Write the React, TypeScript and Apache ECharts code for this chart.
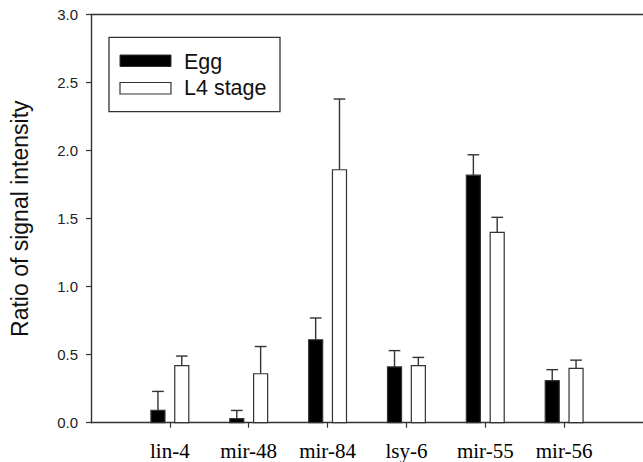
import React, { useEffect, useRef } from "react";
import * as echarts from "echarts";

const categories = ["lin-4", "mir-48", "mir-84", "lsy-6", "mir-55", "mir-56"];
const seriesNames = ["Egg", "L4 stage"];
const eggValues = [0.09, 0.03, 0.61, 0.41, 1.82, 0.31];
const eggErrors = [0.14, 0.06, 0.16, 0.12, 0.15, 0.08];
const l4Values = [0.42, 0.36, 1.86, 0.42, 1.4, 0.4];
const l4Errors = [0.07, 0.2, 0.52, 0.06, 0.11, 0.06];
const yTicks = [0, 0.5, 1, 1.5, 2, 2.5, 3];

const positions = categories.map((_, i) => i + 1);

const SANS = "'Liberation Sans', Arial, sans-serif";
const SERIF = "'Liberation Serif', 'Times New Roman', serif";
const LINE = "#333";

function makeSeries(name: string, values: number[], errors: number[], offset: number, fill: string) {
  const data = values.map((v, i) => [positions[i], v, errors[i]]);
  return {
    type: "custom",
    name,
    data,
    clip: false,
    renderItem: (params: any, api: any) => {
      const x = api.value(0) + offset;
      const v = api.value(1);
      const e = api.value(2);
      const base = api.coord([x, 0]);
      const top = api.coord([x, v]);
      const errTop = api.coord([x, v + e]);
      const w = api.size([0.178, 0])[0];
      const cap = api.size([0.148, 0])[0];
      const cx = base[0];
      return {
        type: "group",
        children: [
          {
            type: "line",
            shape: { x1: cx, y1: top[1], x2: cx, y2: errTop[1] },
            style: { stroke: LINE, lineWidth: 1.4 },
          },
          {
            type: "line",
            shape: { x1: cx - cap / 2, y1: errTop[1], x2: cx + cap / 2, y2: errTop[1] },
            style: { stroke: LINE, lineWidth: 1.4 },
          },
          {
            type: "rect",
            shape: { x: cx - w / 2, y: top[1], width: w, height: base[1] - top[1] },
            style: { fill, stroke: LINE, lineWidth: 1.2 },
          },
        ],
      };
    },
  };
}

export default function App() {
  const ref = useRef<HTMLDivElement>(null);
  useEffect(() => {
    if (!ref.current) return;
    const chart = echarts.init(ref.current, null, { renderer: "svg" });
    const option: any = {
      animation: false,
      backgroundColor: "#ffffff",
      grid: { left: 84, top: 14.7, width: 566, height: 408 },
      xAxis: [
        {
          type: "value",
          min: 0,
          max: 7,
          interval: 1,
          position: "bottom",
          splitLine: { show: false },
          axisLine: { show: true, lineStyle: { color: LINE, width: 1.4 } },
          axisTick: {
            show: true,
            customValues: positions,
            length: 5,
            inside: false,
            lineStyle: { color: LINE, width: 1.2 },
          },
          axisLabel: {
            show: true,
            customValues: positions,
            formatter: (v: number) => categories[Math.round(v) - 1] ?? "",
            margin: 18,
            fontFamily: SERIF,
            fontSize: 21,
            color: "#000",
          },
        },
        {
          type: "value",
          min: 0,
          max: 7,
          position: "top",
          splitLine: { show: false },
          axisLine: { show: true, lineStyle: { color: LINE, width: 1.4 } },
          axisTick: { show: false },
          axisLabel: { show: false },
        },
      ],
      yAxis: {
        type: "value",
        min: yTicks[0],
        max: yTicks[yTicks.length - 1],
        interval: 0.5,
        splitLine: { show: false },
        axisLine: { show: true, lineStyle: { color: LINE, width: 1.4 } },
        axisTick: { show: true, inside: false, length: 5, lineStyle: { color: LINE, width: 1.2 } },
        axisLabel: {
          margin: 13,
          formatter: (v: number) => v.toFixed(1),
          fontFamily: SANS,
          fontSize: 15,
          color: "#222",
        },
        name: "Ratio of signal intensity",
        nameLocation: "middle",
        nameRotate: 90,
        nameGap: 60,
        nameTextStyle: { fontFamily: SANS, fontSize: 23, color: "#111" },
      },
      series: [
        makeSeries(seriesNames[0], eggValues, eggErrors, -0.151, "#000"),
        makeSeries(seriesNames[1], l4Values, l4Errors, 0.151, "#fff"),
      ],
      graphic: [
        {
          type: "rect",
          shape: { x: 109, y: 37.3, width: 171, height: 74.4 },
          style: { fill: "#fff", stroke: LINE, lineWidth: 1.3 },
        },
        {
          type: "rect",
          shape: { x: 120, y: 55, width: 51, height: 11.5 },
          style: { fill: "#000", stroke: LINE, lineWidth: 1 },
        },
        {
          type: "rect",
          shape: { x: 120, y: 82.5, width: 51, height: 11.5 },
          style: { fill: "#fff", stroke: LINE, lineWidth: 1.2 },
        },
        {
          type: "text",
          x: 184,
          y: 62,
          style: { text: seriesNames[0], fontFamily: SANS, fontSize: 21.5, fill: "#111", verticalAlign: "middle", align: "left" },
        },
        {
          type: "text",
          x: 184,
          y: 88,
          style: { text: seriesNames[1], fontFamily: SANS, fontSize: 21.5, fill: "#111", verticalAlign: "middle", align: "left" },
        },
      ],
    };
    chart.setOption(option);
    return () => chart.dispose();
  }, []);
  return (
    <div
      ref={ref}
      style={{ position: "fixed", left: 0, top: 0, width: 643, height: 462, background: "#fff" }}
    />
  );
}
